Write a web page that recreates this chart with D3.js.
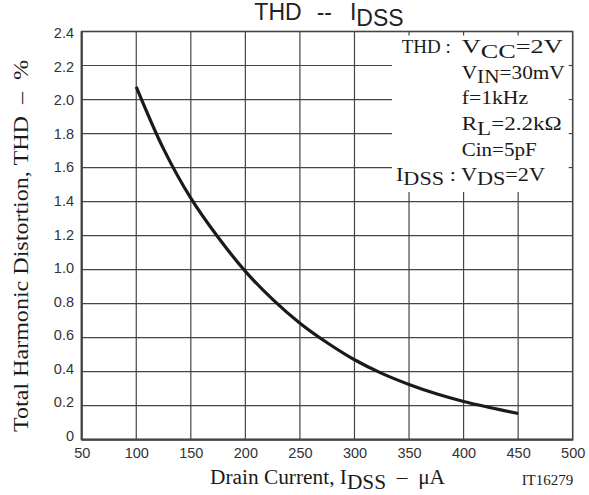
<!DOCTYPE html>
<html>
<head>
<meta charset="utf-8">
<script src="https://cdn.jsdelivr.net/npm/d3@7"></script>
<style>
  html, body { margin: 0; padding: 0; background: #fff; }
  svg { display: block; }
  text { white-space: pre; }
</style>
</head>
<body>
<script>
// ---- data ----
const currentUA = [100, 125, 150, 175, 200, 225, 250, 275, 300, 325, 350, 375, 400, 425, 450];
const thdPct    = [2.075, 1.71, 1.42, 1.19, 0.99, 0.825, 0.685, 0.57, 0.47, 0.39, 0.325, 0.27, 0.225, 0.188, 0.154];
const xTickValues = [50, 100, 150, 200, 250, 300, 350, 400, 450, 500];
const yTickValues = [0, 0.2, 0.4, 0.6, 0.8, 1.0, 1.2, 1.4, 1.6, 1.8, 2.0, 2.2, 2.4];
const yTickLabels = ["0", "0.2", "0.4", "0.6", "0.8", "1.0", "1.2", "1.4", "1.6", "1.8", "2.0", "2.2", "2.4"];

const W = 589, H = 495;
const L = 81.7, R = 572.7, T = 31.5, B = 439.7;

const svg = d3.select("body").append("svg").attr("width", W).attr("height", H);

const x = d3.scaleLinear().domain([50, 500]).range([L, R]);
const y = d3.scaleLinear().domain([0, 2.4]).range([B, T]);
const yLab = d3.scaleLinear().domain([0, 2.4]).range([436, 33]);

const gridColor = "#454545";
const legendLeft = 392, legendBottom = 192;

// grid
const grid = svg.append("g");
grid.selectAll("line.v").data(xTickValues.slice(1, -1)).join("line")
  .attr("x1", d => x(d)).attr("x2", d => x(d))
  .attr("y1", T).attr("y2", B)
  .attr("stroke", gridColor).attr("stroke-width", 1.2);
grid.selectAll("line.h").data(yTickValues.slice(1, -1)).join("line")
  .attr("x1", L).attr("x2", R)
  .attr("y1", d => y(d)).attr("y2", d => y(d))
  .attr("stroke", gridColor).attr("stroke-width", 1.2);

// legend area (white box hiding grid)
svg.append("rect")
  .attr("x", legendLeft).attr("y", T)
  .attr("width", R - legendLeft).attr("height", legendBottom - T)
  .attr("fill", "#fff");

// small stubs inside the legend area along borders
svg.append("g").selectAll("line").data(xTickValues.filter(d => x(d) > legendLeft && d < 500)).join("line")
  .attr("x1", d => x(d)).attr("x2", d => x(d))
  .attr("y1", T).attr("y2", T + 4)
  .attr("stroke", gridColor).attr("stroke-width", 1.2);
svg.append("g").selectAll("line").data(yTickValues.filter(d => y(d) < legendBottom && d < 2.4)).join("line")
  .attr("x1", R - 4).attr("x2", R)
  .attr("y1", d => y(d)).attr("y2", d => y(d))
  .attr("stroke", gridColor).attr("stroke-width", 1.2);

// frame
svg.append("rect")
  .attr("x", L).attr("y", T).attr("width", R - L).attr("height", B - T)
  .attr("fill", "none").attr("stroke", "#444").attr("stroke-width", 1.6);
svg.append("line").attr("x1", L).attr("x2", L).attr("y1", T).attr("y2", B)
  .attr("stroke", "#444").attr("stroke-width", 2.2);
svg.append("line").attr("x1", L).attr("x2", R).attr("y1", B).attr("y2", B)
  .attr("stroke", "#444").attr("stroke-width", 2.2);

// axes (labels only, via d3 axis)
const xAxis = d3.axisBottom(x).tickValues(xTickValues).tickSize(0).tickPadding(8).tickFormat(d3.format("d"));
const gx = svg.append("g").attr("transform", `translate(0,${B})`).call(xAxis);
gx.select(".domain").remove();
gx.selectAll("text").attr("font-family", "'Liberation Sans', Arial, sans-serif")
  .attr("font-size", 14.5).attr("fill", "#333").attr("dy", "0.71em");

const gy = svg.append("g");
gy.selectAll("text").data(yTickValues).join("text")
  .attr("x", 74).attr("y", d => yLab(d))
  .attr("text-anchor", "end").attr("dominant-baseline", "central")
  .attr("font-family", "'Liberation Sans', Arial, sans-serif")
  .attr("font-size", 14.5).attr("fill", "#333")
  .text((d, i) => yTickLabels[i]);

// curve
const pts = currentUA.map((c, i) => [c, thdPct[i]]);
svg.append("path").datum(pts)
  .attr("d", d3.line().x(d => x(d[0])).y(d => y(d[1])).curve(d3.curveCatmullRom.alpha(0.5)))
  .attr("fill", "none").attr("stroke", "#1a1a1a").attr("stroke-width", 3.2)
  .attr("stroke-linecap", "butt");

// title
const title = svg.append("text")
  .attr("x", 329).attr("y", 20).attr("text-anchor", "middle")
  .attr("font-family", "'Liberation Sans', Arial, sans-serif")
  .attr("font-size", 23).attr("fill", "#222");
title.append("tspan").text("THD");
title.append("tspan").attr("dx", 15).text("--");
title.append("tspan").attr("dx", 18).text("I");
title.append("tspan").attr("dy", 6).text("DSS");

// legend
const serif = "'Liberation Serif', 'Times New Roman', serif";
const legend = svg.append("g").attr("font-family", serif).attr("font-size", 19).attr("fill", "#1a1a1a");
function sub(parent, main, s, rest) {
  parent.append("tspan").text(main);
  parent.append("tspan").attr("dy", 4.5).text(s);
  parent.append("tspan").attr("dy", -4.5).text(rest);
}
function stretch(sel, len) {
  return sel.attr("textLength", len).attr("lengthAdjust", "spacingAndGlyphs");
}
legend.append("text").attr("x", 401.7).attr("y", 53).text("THD :");
const l1 = stretch(legend.append("text").attr("x", 461.7).attr("y", 53), 101);
sub(l1, "V", "CC", "=2V");
const l2 = stretch(legend.append("text").attr("x", 461.7).attr("y", 78.6), 103);
sub(l2, "V", "IN", "=30mV");
stretch(legend.append("text").attr("x", 461.7).attr("y", 104), 66.5).text("f=1kHz");
const l4 = stretch(legend.append("text").attr("x", 461.7).attr("y", 130), 100);
sub(l4, "R", "L", "=2.2kΩ");
stretch(legend.append("text").attr("x", 461.7).attr("y", 155.5), 75).text("Cin=5pF");
const l6 = stretch(legend.append("text").attr("x", 396).attr("y", 181), 149);
l6.append("tspan").text("I");
l6.append("tspan").attr("dy", 4).text("DSS");
l6.append("tspan").attr("dy", -4).text(" : V");
l6.append("tspan").attr("dy", 4).text("DS");
l6.append("tspan").attr("dy", -4).text("=2V");

// x axis title
const xt = svg.append("text").attr("x", 210).attr("y", 484)
  .attr("font-family", serif).attr("font-size", 20).attr("fill", "#1a1a1a")
  .attr("textLength", 235).attr("lengthAdjust", "spacingAndGlyphs");
xt.append("tspan").text("Drain Current, I");
xt.append("tspan").attr("dy", 5).text("DSS");
xt.append("tspan").attr("dy", -5).text("  \u2013  \u03BCA");

// code label
svg.append("text").attr("x", 573.3).attr("y", 485).attr("text-anchor", "end")
  .attr("font-family", serif).attr("font-size", 15).attr("fill", "#222")
  .text("IT16279");

// y axis title
svg.append("text")
  .attr("transform", "translate(28,432) rotate(-90)")
  .attr("text-anchor", "start")
  .attr("font-family", serif).attr("font-size", 21).attr("fill", "#1a1a1a")
  .attr("textLength", 372).attr("lengthAdjust", "spacingAndGlyphs")
  .text("Total Harmonic Distortion, THD  \u2013  %");
</script>
</body>
</html>
